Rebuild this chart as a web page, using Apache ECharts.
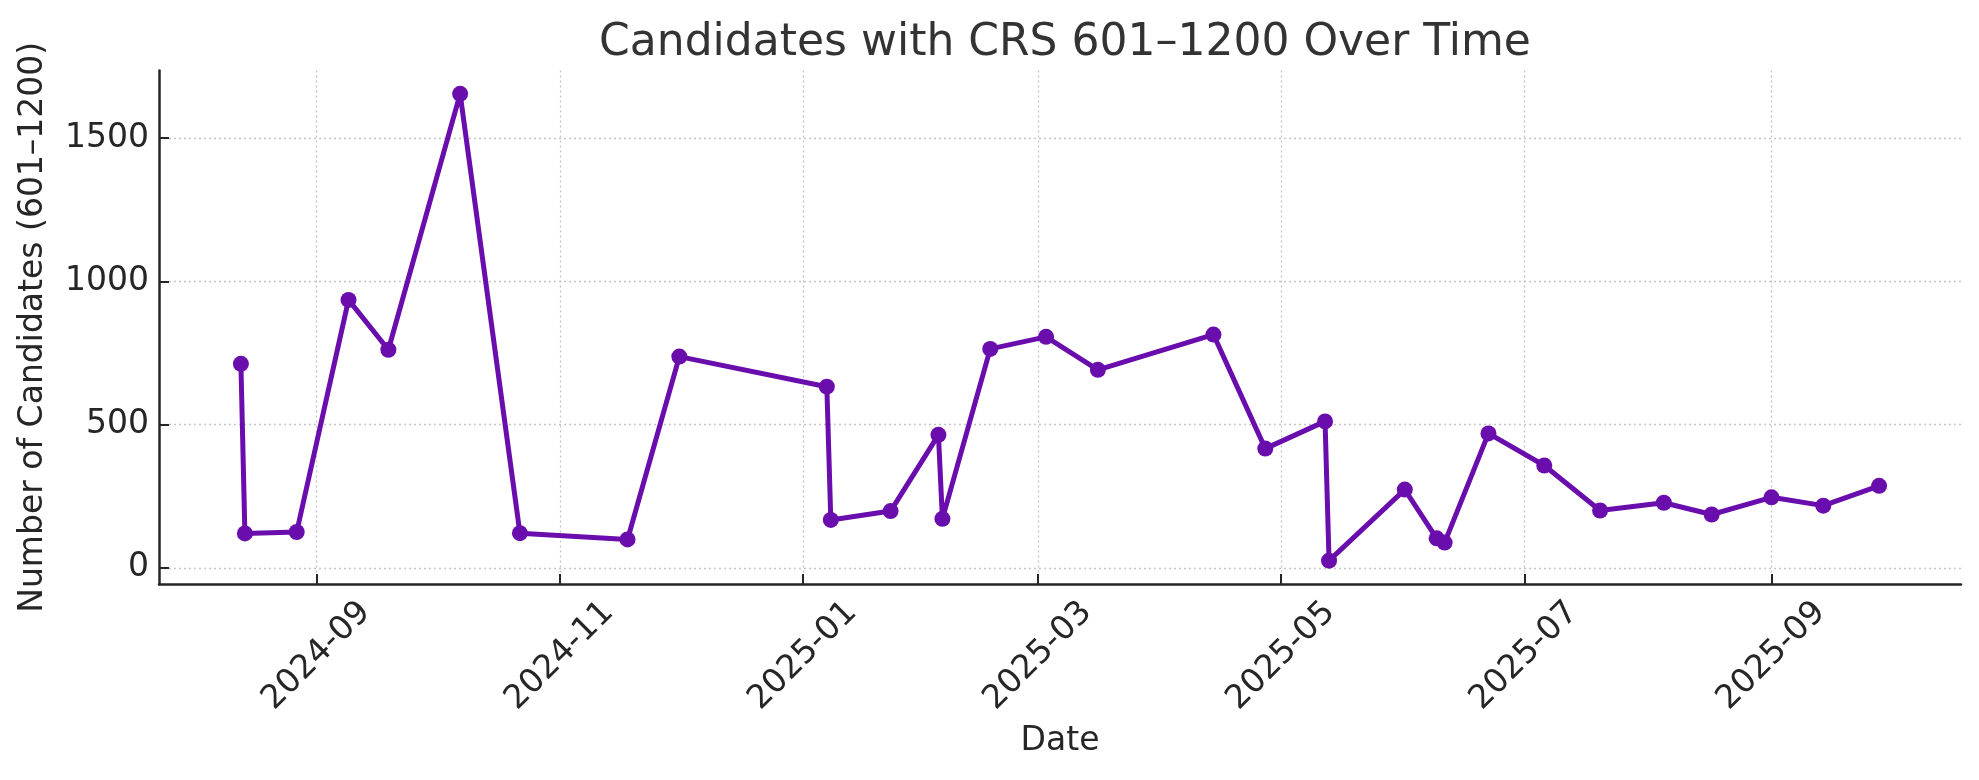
<!DOCTYPE html>
<html>
<head>
<meta charset="utf-8">
<script src="https://cdn.jsdelivr.net/npm/echarts@6/dist/echarts.min.js"></script>
<style>
  html, body { margin: 0; padding: 0; background: #ffffff; }
  #chart { width: 1979px; height: 780px; }
</style>
</head>
<body>
<div id="chart"></div>
<script>
// ---- Data ----
const dates = ['2024-08-13','2024-08-14','2024-08-27','2024-09-09','2024-09-19','2024-10-07','2024-10-22','2024-11-18','2024-12-01','2025-01-07','2025-01-08','2025-01-23','2025-02-04','2025-02-05','2025-02-17','2025-03-03','2025-03-16','2025-04-14','2025-04-27','2025-05-12','2025-05-13','2025-06-01','2025-06-09','2025-06-11','2025-06-22','2025-07-06','2025-07-20','2025-08-05','2025-08-17','2025-09-01','2025-09-14','2025-09-28'];
const candidates = [712,120,125,935,761,1654,121,99,737,632,167,198,464,171,764,806,691,814,416,511,25,273,103,88,469,357,200,227,186,246,217,286];
const xTickLabels = ['2024-09','2024-11','2025-01','2025-03','2025-05','2025-07','2025-09'];
const yTickValues = [0, 500, 1000, 1500];
const titleText = 'Candidates with CRS 601–1200 Over Time';
const xAxisTitle = 'Date';
const yAxisTitle = 'Number of Candidates (601–1200)';

// ---- Helpers ----
const DAY = 86400000;
function ts(s) {
  const p = s.split('-').map(Number);
  return Date.UTC(p[0], p[1] - 1, p[2] || 1);
}
const xs = dates.map(ts);
const xTickValues = xTickLabels.map(ts);
const xMinData = Math.min(...xs), xMaxData = Math.max(...xs);
const xPad = (xMaxData - xMinData) * 0.05;
const yMinData = Math.min(...candidates), yMaxData = Math.max(...candidates);
const yPad = (yMaxData - yMinData) * 0.05;

const seriesData = xs.map((x, i) => [x, candidates[i]]);

const FONT = 'DejaVu Sans';
const TEXT = '#262626';
const FS = 33;
const GRID_LINE = { color: '#c4c4c4', width: 1.3, type: [2, 3] };

const chart = echarts.init(document.getElementById('chart'), null, { renderer: 'canvas' });
chart.setOption({
  animation: false,
  backgroundColor: '#ffffff',
  textStyle: { fontFamily: FONT },
  title: {
    text: titleText,
    left: 1060,
    top: 17,
    textAlign: 'center',
    textStyle: { fontFamily: FONT, fontSize: 44, fontWeight: 'normal', color: '#333333' }
  },
  grid: { left: 159, right: 18, top: 70.5, bottom: 196, containLabel: false },
  xAxis: {
    type: 'value',
    min: xMinData - xPad,
    max: xMaxData + xPad,
    name: xAxisTitle,
    nameLocation: 'middle',
    nameGap: 157,
    nameTextStyle: { fontFamily: FONT, fontSize: FS, color: TEXT, verticalAlign: 'middle' },
    axisLine: { show: true, onZero: false, lineStyle: { color: TEXT, width: 2.5 } },
    axisTick: { show: true, inside: true, length: 10, customValues: xTickValues, lineStyle: { color: TEXT, width: 2 } },
    axisLabel: {
      show: true,
      customValues: xTickValues,
      rotate: 45,
      align: 'center',
      verticalAlign: 'middle',
      margin: 72,
      fontFamily: FONT,
      fontSize: FS,
      color: TEXT,
      formatter: function (v) {
        const i = xTickValues.findIndex(t => Math.abs(t - v) < DAY / 2);
        return i >= 0 ? xTickLabels[i] : '';
      }
    },
    splitLine: { show: true, lineStyle: GRID_LINE }
  },
  yAxis: {
    type: 'value',
    min: yMinData - yPad,
    max: yMaxData + yPad,
    name: yAxisTitle,
    nameLocation: 'middle',
    nameGap: 126,
    nameTextStyle: { fontFamily: FONT, fontSize: FS, color: TEXT, verticalAlign: 'middle' },
    axisLine: { show: true, lineStyle: { color: TEXT, width: 2.5 } },
    axisTick: { show: true, inside: true, length: 10, customValues: yTickValues, lineStyle: { color: TEXT, width: 2 } },
    axisLabel: {
      show: true,
      customValues: yTickValues,
      margin: 10,
      fontFamily: FONT,
      fontSize: FS,
      color: TEXT,
      formatter: function (v) { return String(Math.round(v)); }
    },
    splitLine: { show: true, lineStyle: GRID_LINE }
  },
  series: [{
    type: 'line',
    data: seriesData,
    showAllSymbol: true,
    symbol: 'circle',
    symbolSize: 16,
    lineStyle: { color: '#6A0DAD', width: 5 },
    itemStyle: { color: '#6A0DAD' },
    emphasis: { disabled: true },
    z: 3
  }]
});
</script>
</body>
</html>
